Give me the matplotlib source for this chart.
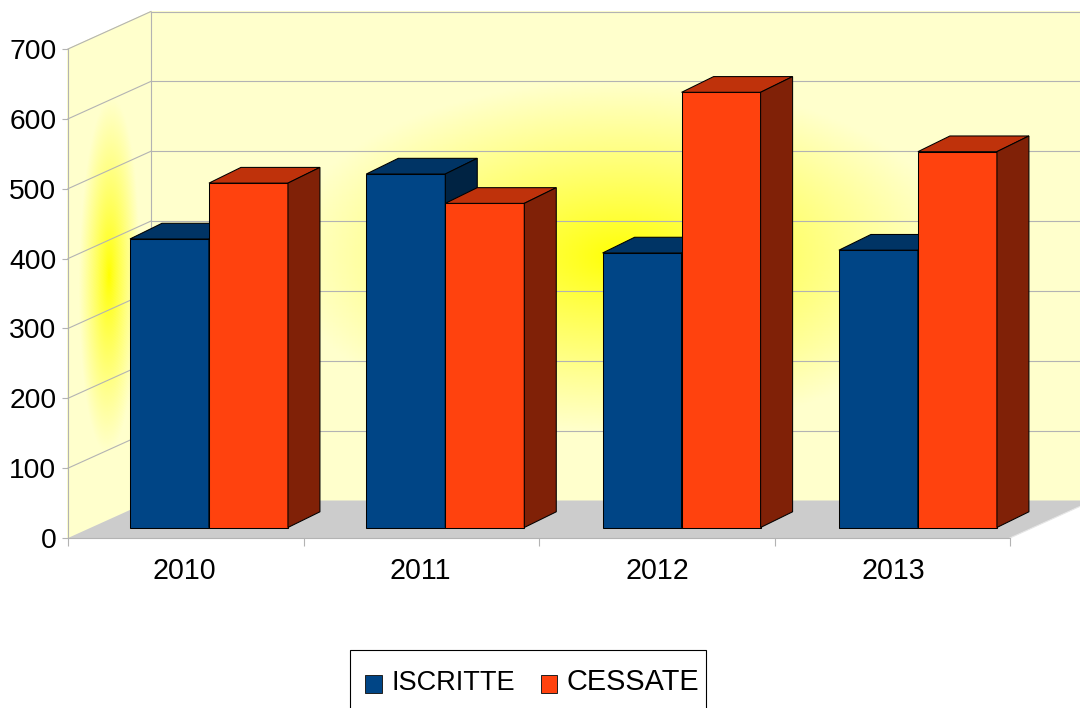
import numpy as np
import matplotlib
matplotlib.use('Agg')
import matplotlib.pyplot as plt
from matplotlib.colors import LinearSegmentedColormap
from matplotlib.patches import Patch, Polygon, Rectangle

# data
years = ['2010', '2011', '2012', '2013']
iscritte = [413, 506, 393, 397]
cessate = [493, 464, 623, 538]
y_ticks = [0, 100, 200, 300, 400, 500, 600, 700]

W, H = 1080, 708
plt.rcParams['font.family'] = ['Liberation Sans', 'DejaVu Sans']

fig = plt.figure(figsize=(W / 100, H / 100), dpi=100, facecolor='white')
# front plane of the chart box, in pixels: x 68-1010, y 49-538
ax = fig.add_axes([68 / W, 1 - 538 / H, (1010 - 68) / W, (538 - 49) / H])
ax.set_xlim(0, 4)
ax.set_ylim(0, 700)
ax.patch.set_visible(False)

px = 4 / (1010 - 68)       # one pixel in x units
py = 700 / (538 - 49)      # one pixel in y units
depth_x = 83 * px
depth_y = 37.5 * py
grid_col = '#b3b3b3'


def wall(x0, y0, x1, y1, zorder=1):
    # radial yellow gradient, sheared to fit the wall
    u = np.linspace(0, 1, 300)
    v = np.linspace(0, 1, 300)
    uu, vv = np.meshgrid(u, v)
    X = x0 + (x1 - x0) * uu
    if y0 == y1:
        Y = y0 + 700 * vv
    else:
        Y = y0 + (y1 - y0) * uu + 700 * vv
    r = np.sqrt((2 * uu - 1) ** 2 + (2 * vv - 1) ** 2) / 0.72
    cmap = LinearSegmentedColormap.from_list('wall', ['#ffff00', '#ffffcc'])
    ax.pcolormesh(X, Y, np.clip(r, 0, 1) ** 0.85, cmap=cmap, vmin=0, vmax=1,
                  shading='gouraud', clip_on=False, zorder=zorder)


wall(depth_x, depth_y, 4 + depth_x, depth_y)
wall(0, 0, depth_x, depth_y)

# floor
ax.add_patch(Polygon([(0, 0), (4, 0), (4 + depth_x, depth_y), (depth_x, depth_y)],
                     closed=True, facecolor='#cccccc', edgecolor='none',
                     clip_on=False, zorder=2))

# grid lines on side and back wall
for v in y_ticks:
    if v > 0:
        ax.plot([0, depth_x], [v, v + depth_y], color=grid_col, lw=0.8,
                clip_on=False, zorder=3)
        ax.plot([depth_x, 4 + depth_x], [v + depth_y, v + depth_y], color=grid_col,
                lw=0.8, clip_on=False, zorder=3)
ax.plot([depth_x, depth_x], [depth_y, 700 + depth_y], color=grid_col, lw=0.8,
        clip_on=False, zorder=3)
ax.plot([4, 4 + depth_x], [0, depth_y], color='#e6e6e6', lw=0.8, clip_on=False, zorder=3)

# bars
bar_w = 79 * px
bar_dx = 32 * px
bar_dy = 15.7 * py
off_x = 23.2 * px
off_y = 10.5 * py
pitch = 1.0035
edge = '#000000'


def shade(col, f):
    rgb = np.array(matplotlib.colors.to_rgb(col)) * f
    return tuple(rgb)


def box(x, val, col, zorder):
    ax.bar(x, val, bar_w, bottom=off_y, align='edge', color=col, edgecolor=edge,
           linewidth=0.75, clip_on=False, zorder=zorder)
    top = val + off_y
    ax.add_patch(Polygon([(x, top), (x + bar_w, top), (x + bar_w + bar_dx, top + bar_dy),
                          (x + bar_dx, top + bar_dy)], closed=True,
                         facecolor=shade(col, 0.75), edgecolor=edge, linewidth=0.75,
                         clip_on=False, zorder=zorder))
    ax.add_patch(Polygon([(x + bar_w, off_y), (x + bar_w + bar_dx, off_y + bar_dy),
                          (x + bar_w + bar_dx, top + bar_dy), (x + bar_w, top)], closed=True,
                         facecolor=shade(col, 0.5), edgecolor=edge, linewidth=0.75,
                         clip_on=False, zorder=zorder))


blue = '#004586'
orange = '#ff420e'
for i in range(len(years)):
    mid = 0.5 + i * pitch + off_x
    box(mid - bar_w, iscritte[i], blue, 4 + i * 2)
    box(mid, cessate[i], orange, 5 + i * 2)

# axes
for s in ['top', 'right']:
    ax.spines[s].set_visible(False)
for s in ['left', 'bottom']:
    ax.spines[s].set_color(grid_col)
    ax.spines[s].set_linewidth(0.8)
    ax.spines[s].set_zorder(3)

ax.set_yticks(y_ticks)
ax.set_yticklabels([str(v) for v in y_ticks], fontsize=20.3, color='#000000')
ax.tick_params(axis='y', length=4.3, width=0.8, color=grid_col, pad=4.0)
ax.set_xticks(np.arange(5))
ax.set_xticklabels([])
ax.tick_params(axis='x', which='major', length=5.8, width=0.8, color=grid_col)
ax.set_xticks(np.arange(4) * pitch + 0.5 - 1.5 * px, minor=True)
ax.set_xticklabels(years, minor=True, fontsize=20.6, color='#000000')
ax.tick_params(axis='x', which='minor', length=0, pad=14)

# legend: box runs off the bottom of the picture, so it is drawn apart
fig.add_artist(Rectangle((349.5 / W, 1 - 730 / H), 356 / W, 80 / H, transform=fig.transFigure,
                         facecolor='white', edgecolor='#000000', linewidth=0.8))
handles = [Patch(facecolor=blue, edgecolor='#202020', linewidth=0.7, label='ISCRITTE'),
           Patch(facecolor=orange, edgecolor='#202020', linewidth=0.7, label='CESSATE')]
leg = fig.legend(handles=handles, loc='upper left', bbox_to_anchor=(365 / W, 1 - 668 / H),
                 ncols=2, fontsize=19.5, frameon=False, borderpad=0, borderaxespad=0,
                 handlelength=0.61, handleheight=0.61, handletextpad=0.35,
                 columnspacing=0.96)
leg.set_zorder(5)
leg.get_texts()[1].set_fontsize(20.8)
for h in leg.legend_handles:
    h.set_y(h.get_y() - 2.5)

fig.savefig('out.png', dpi=100, facecolor='white')
